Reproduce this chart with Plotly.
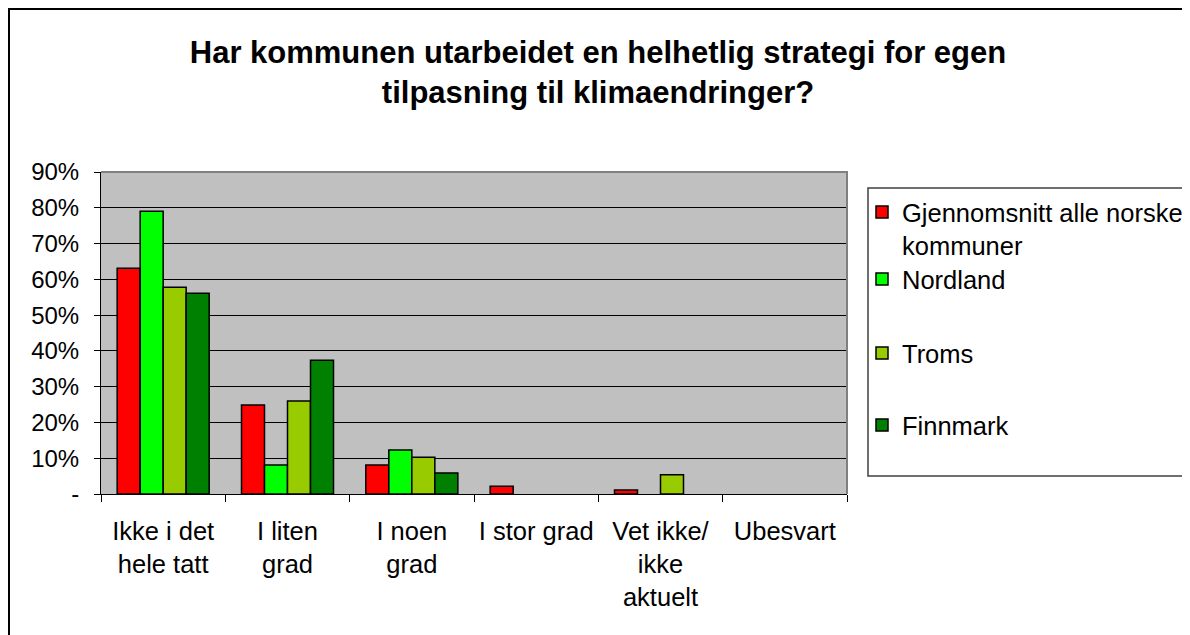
import plotly.graph_objects as go

categories = ["Ikke i det hele tatt", "I liten grad", "I noen grad", "I stor grad",
              "Vet ikke/ ikke aktuelt", "Ubesvart"]
tick_labels = ["Ikke i det<br>hele tatt", "I liten<br>grad", "I noen<br>grad", "I stor grad",
               "Vet ikke/<br>ikke<br>aktuelt", "Ubesvart"]

series_names = ["Gjennomsnitt alle norske<br>kommuner", "Nordland", "Troms", "Finnmark"]
gjennomsnitt = [0.631, 0.249, 0.081, 0.022, 0.011, None]
nordland = [0.790, 0.081, 0.123, None, None, None]
troms = [0.578, 0.260, 0.103, None, 0.054, None]
finnmark = [0.561, 0.374, 0.059, None, None, None]
series_values = [gjennomsnitt, nordland, troms, finnmark]
colors = ["#FF0000", "#00FF00", "#99CC00", "#008000"]

y_tickvals = [0, 0.1, 0.2, 0.3, 0.4, 0.5, 0.6, 0.7, 0.8, 0.9]
y_ticktext = ["-", "10%", "20%", "30%", "40%", "50%", "60%", "70%", "80%", "90%"]

title_text = "Har kommunen utarbeidet en helhetlig strategi for egen<br>tilpasning til klimaendringer?"

FONT = "Arial, Liberation Sans, sans-serif"

# page geometry (the page's 8px body margin shifts the figure)
OFF = 8
W, H = 1190, 635
PX0, PX1, PY0, PY1 = 101, 847, 172, 494   # plot area in page pixels
pw, ph = PX1 - PX0, PY1 - PY0

def px_x(x):
    return (x - PX0) / pw

def px_y(y):
    return (PY1 - y) / ph

legend_keys = ["legend", "legend2", "legend3", "legend4"]
legend_tops = [189, 256, 330, 402]   # page y of each legend entry

fig = go.Figure()
for i, (name, vals, col) in enumerate(zip(series_names, series_values, colors)):
    fig.add_trace(go.Bar(
        x=categories, y=vals, name=name, legend=legend_keys[i],
        marker=dict(color=col, line=dict(color="black", width=1.5)),
    ))

legend_common = dict(x=px_x(862), xanchor="left", yanchor="top",
                     font=dict(size=25.5, family=FONT, color="black"),
                     bgcolor="rgba(0,0,0,0)", borderwidth=0, valign="top")

layout_legends = {}
for key, top in zip(legend_keys, legend_tops):
    layout_legends[key] = dict(legend_common, y=px_y(top))

fig.update_layout(
    width=W, height=H,
    margin=dict(l=PX0 - OFF, r=W - (PX1 - OFF), t=PY0 - OFF, b=H - (PY1 - OFF), pad=0,
                autoexpand=False),
    paper_bgcolor="white",
    plot_bgcolor="#C0C0C0",
    font=dict(family=FONT, size=24, color="black"),
    barmode="group", bargap=0.26, bargroupgap=0,
    title=dict(text="<b>" + title_text + "</b>", x=(598 - OFF) / W, xanchor="center",
               y=1 - 55 / H, yanchor="top", yref="container", xref="container",
               font=dict(size=31, family=FONT, color="black")),
    showlegend=True,
    **layout_legends,
)

fig.update_xaxes(
    type="category", tickmode="array", tickvals=categories, ticktext=tick_labels,
    tickson="boundaries", ticks="outside", ticklen=7, tickcolor="black", tickwidth=1,
    showline=True, linecolor="black", linewidth=1, showgrid=False, zeroline=False,
    tickfont=dict(size=25.5, family=FONT, color="black"), ticklabelstandoff=14,
    tickangle=0,
)
fig.update_yaxes(
    range=[0, 0.9], tickmode="array", tickvals=y_tickvals, ticktext=y_ticktext,
    ticks="outside", ticklen=6, tickcolor="black", tickwidth=1,
    showline=True, linecolor="black", linewidth=1,
    showgrid=True, gridcolor="black", gridwidth=1, zeroline=False,
    tickfont=dict(size=24, family=FONT, color="black"), ticklabelstandoff=10,
)

# plot-area top/right border (gray)
fig.add_shape(type="path", xref="paper", yref="paper",
              path="M 0,1 L 1,1 L 1,0", line=dict(color="#808080", width=2), layer="above")
# legend box
fig.add_shape(type="rect", xref="paper", yref="paper",
              x0=px_x(868), x1=px_x(1186), y0=px_y(476), y1=px_y(188),
              line=dict(color="#404040", width=1.5), fillcolor="white", layer="below")
# outer chart border (only left and top visible)
fig.add_shape(type="path", xref="paper", yref="paper",
              path=f"M {px_x(9)},{px_y(660)} L {px_x(9)},{px_y(9)} L {px_x(1210)},{px_y(9)}",
              line=dict(color="black", width=2), layer="above")

fig.write_html("out.html")
